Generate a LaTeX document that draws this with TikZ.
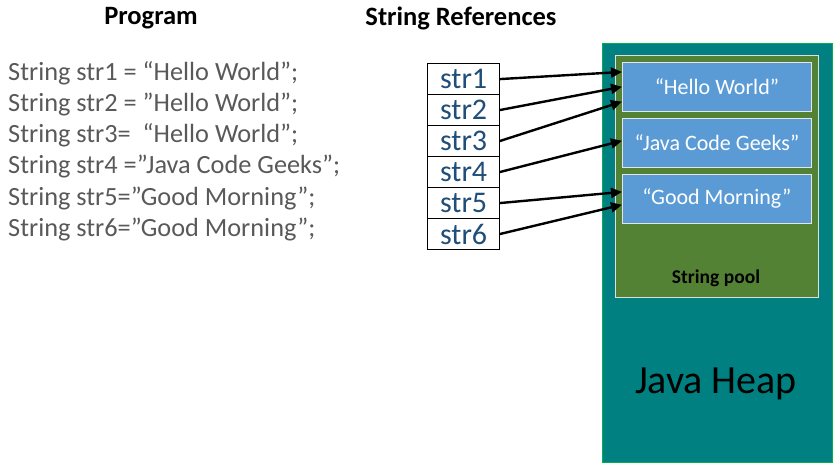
\documentclass[tikz,border=0pt]{standalone}
\usepackage{fontspec}
\setmainfont{Carlito}
\usetikzlibrary{arrows.meta}
\definecolor{heap}{RGB}{0,128,128}
\definecolor{heapedge}{RGB}{0,176,80}
\definecolor{pool}{RGB}{84,130,53}
\definecolor{strbox}{RGB}{91,155,213}
\definecolor{progtxt}{RGB}{89,89,89}
\definecolor{reftxt}{RGB}{31,78,121}
\tikzset{
  refcell/.style={draw=black, line width=1.2pt, fill=white, minimum width=72pt, minimum height=31pt, inner sep=0pt, outer sep=0pt, text=reftxt, font=\fontsize{30}{30}\selectfont},
  strval/.style={draw=white!80!gray, line width=0.8pt, fill=strbox, minimum width=189pt, minimum height=49pt, inner sep=0pt, text=white, font=\fontsize{22}{22}\selectfont},
  prog/.style={anchor=west, text=progtxt, font=\fontsize{26.3}{27}\selectfont, inner sep=0pt},
  head/.style={font=\bfseries\fontsize{26.5}{27}\selectfont, inner sep=0pt},
  ptr/.style={line width=2.4pt, -{Triangle[length=11pt,width=10pt]}, shorten >=-1pt}
}
\begin{document}
\begin{tikzpicture}[x={(1pt,0)}, y={(0,-1pt)}]
\useasboundingbox (0,0) rectangle (835,471);
% headings
\node[head] (hprog) at (151,18) {Program};
\node[head] (href) at (461,18) {String References};
% program lines
\node[prog] (p1) at (8,73) {String str1 = “Hello World”;};
\node[prog] (p2) at (8,104) {String str2 = ”Hello World”;};
\node[prog] (p3) at (8,135) {String str3=~ “Hello World”;};
\node[prog] (p4) at (8,166) {String str4 =”Java Code Geeks”;};
\node[prog] (p5) at (8,198) {String str5=”Good Morning”;};
\node[prog] (p6) at (8,229) {String str6=”Good Morning”;};
% heap
\node[draw=heapedge, line width=0.8pt, fill=heap, minimum width=230pt, minimum height=419pt, inner sep=0pt, anchor=north west] (heapbox) at (602,43) {};
\node[draw=white!75!gray, line width=0.8pt, fill=pool, minimum width=203pt, minimum height=242pt, inner sep=0pt, anchor=north west] (poolbox) at (615,55) {};
\node[font=\bfseries\fontsize{19.5}{20}\selectfont, inner sep=0pt] (pooltxt) at (716,278) {String pool};
\node[font=\fontsize{40}{40}\selectfont, inner sep=0pt] (heaptxt) at (716,384) {Java Heap};
% string values
\node[strval, anchor=north west] (hw) at (622,62) {“Hello World”};
\node[strval, anchor=north west] (jcg) at (622,118) {“Java Code Geeks”};
\node[strval, anchor=north west] (gm) at (622,174) {“Good Morning”};
% reference cells
\node[refcell, anchor=north west] (s1) at (427.6,63.6) {str1};
\node[refcell, anchor=north] (s2) at (s1.south) {str2};
\node[refcell, anchor=north] (s3) at (s2.south) {str3};
\node[refcell, anchor=north] (s4) at (s3.south) {str4};
\node[refcell, anchor=north] (s5) at (s4.south) {str5};
\node[refcell, anchor=north] (s6) at (s5.south) {str6};
% arrow targets
\coordinate (t1) at (621,72);
\coordinate (t2) at (621,87);
\coordinate (t3) at (621,102);
\coordinate (t4) at (621,141);
\coordinate (t5) at (621,192);
\coordinate (t6) at (621,205);
\draw[ptr] (s1.east) -- (t1);
\draw[ptr] (s2.east) -- (t2);
\draw[ptr] (s3.east) -- (t3);
\draw[ptr] (s4.east) -- (t4);
\draw[ptr] (s5.east) -- (t5);
\draw[ptr] (s6.east) -- (t6);
\end{tikzpicture}
\end{document}
